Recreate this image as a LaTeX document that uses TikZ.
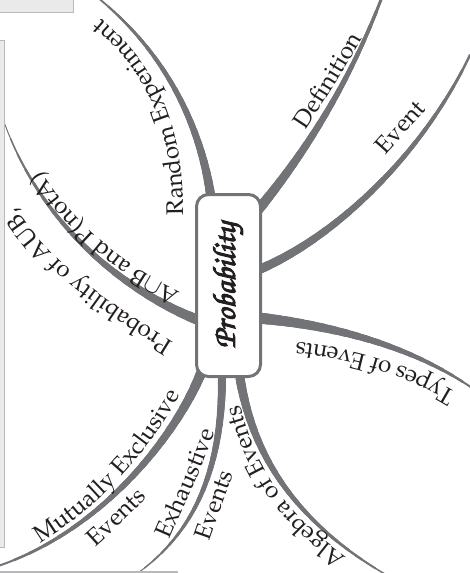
\documentclass[tikz,border=0pt]{standalone}
\usepackage[T1]{fontenc}
\renewcommand{\rmdefault}{ppl}
\usetikzlibrary{calc,decorations.text,backgrounds}
\definecolor{brgray}{RGB}{114,115,118}
\definecolor{ink}{RGB}{35,31,32}
\definecolor{framegray}{RGB}{185,185,188}
\definecolor{framefill}{RGB}{234,234,235}
\newcommand\lblfont{\fontsize{24}{26}\selectfont\color{ink}}
\newcommand\taperbranch[6]{%
  \foreach \k in {0,...,19}{%
    \pgfmathsetmacro\tb{1-\k/20}%
    \pgfmathsetmacro\wb{#6+(#5-#6)*\k/19}%
    \path ($(#1)!\tb!(#2)$) coordinate (qA)
          ($(#2)!\tb!(#3)$) coordinate (qB)
          ($(#3)!\tb!(#4)$) coordinate (qC);
    \path ($(qA)!\tb!(qB)$) coordinate (qD)
          ($(qB)!\tb!(qC)$) coordinate (qE);
    \path ($(qD)!\tb!(qE)$) coordinate (qF);
    \draw[brline, line width=\wb pt] (#1) .. controls (qA) and (qD) .. (qF);
  }%
}
\tikzset{
  brline/.style={draw=brgray, line cap=round},
  hub/.style={draw=brgray, line width=3pt, fill=white, rounded corners=12pt,
    minimum width=64pt, minimum height=182pt, inner sep=0pt},
  framebox/.style={fill=framefill, draw=framegray, line width=1pt},
}
\begin{document}
\begin{tikzpicture}[x=1pt,y=-1pt]
\useasboundingbox (0,0) rectangle (469,573);
% page frame fragments
\path[framebox] (-5,-5) rectangle (73.5,12.5);
\path[framebox] (-5,40) rectangle (4,547);
\draw[framegray, line width=2pt] (-2,571.5) -- (178,571.5);

% hub
\node[hub] (P) at (228.5,285.5) {\rotatebox{90}{\fontsize{32}{32}\fontfamily{pzc}\fontseries{m}\fontshape{it}\selectfont\color{ink}\special{pdf:literal direct 2 Tr 1 w}Probability\special{pdf:literal direct 0 Tr}}};

% branch coordinates
\coordinate (b1a) at ($(P.center)+(-17.5,-87.5)$);
\coordinate (b1b) at (203,140); \coordinate (b1c) at (175,60); \coordinate (b1d) at (97,-3);
\coordinate (b2a) at ($(P.center)+(29.5,-75.5)$);
\coordinate (b2b) at (295,165); \coordinate (b2c) at (345,95); \coordinate (b2d) at (382,-3);
\coordinate (b3a) at ($(P.center)+(29.5,-15.5)$);
\coordinate (b3b) at (330,240); \coordinate (b3c) at (420,160); \coordinate (b3d) at (470,55);
\coordinate (b4a) at ($(P.center)+(29.5,32.5)$);
\coordinate (b4b) at (330,325); \coordinate (b4c) at (410,345); \coordinate (b4d) at (472,388);
\coordinate (b5a) at ($(P.center)+(11.5,92.5)$);
\coordinate (b5b) at (252,450); \coordinate (b5c) at (290,520); \coordinate (b5d) at (390,577);
\coordinate (b6a) at ($(P.center)+(-6.5,92.5)$);
\coordinate (b6b) at (222,460); \coordinate (b6c) at (200,530); \coordinate (b6d) at (135,575);
\coordinate (b7a) at ($(P.center)+(-25.5,82.5)$);
\coordinate (b7b) at (180,430); \coordinate (b7c) at (105,530); \coordinate (b7d) at (-2,566);
\coordinate (b8a) at ($(P.center)+(-30.5,34.5)$);
\coordinate (b8b) at (135,295); \coordinate (b8c) at (45,235); \coordinate (b8d) at (4,122);

\begin{pgfonlayer}{background}
\taperbranch{b1a}{b1b}{b1c}{b1d}{9}{1.8}
\taperbranch{b2a}{b2b}{b2c}{b2d}{10}{3}
\taperbranch{b3a}{b3b}{b3c}{b3d}{9}{2.5}
\taperbranch{b4a}{b4b}{b4c}{b4d}{11}{2}
\taperbranch{b5a}{b5b}{b5c}{b5d}{9}{1.5}
\taperbranch{b6a}{b6b}{b6c}{b6d}{8}{1}
\taperbranch{b7a}{b7b}{b7c}{b7d}{10}{2}
\taperbranch{b8a}{b8b}{b8c}{b8d}{10}{1}
\end{pgfonlayer}

% labels along curves
\path[decorate, decoration={text along path, text={|\lblfont|Random Experiment}}]
  (183,215) .. controls (183,140) and (168,60) .. (70,-4);
\path[decorate, decoration={text along path, text={|\lblfont|Definition}}]
  (305,130) .. controls (325,100) and (345,68) .. (370,25);
\path[decorate, decoration={text along path, text={|\lblfont|Event}}]
  (385,155) .. controls (402,136) and (420,116) .. (442,92);
\path[decorate, decoration={text along path, text={|\lblfont|Types of Events}}]
  (456,393) .. controls (410,365) and (350,345) .. (270,340);
\path[decorate, decoration={text along path, text={|\lblfont|Algebra of Events}}]
  (346,557) .. controls (298,522) and (255,482) .. (236,388);
\path[decorate, decoration={text along path, text={|\lblfont|Exhaustive}}]
  (169,540) .. controls (185,502) and (205,465) .. (221,410);
\path[decorate, decoration={text along path, text={|\lblfont|Events}}]
  (209,541) .. controls (218,515) and (228,488) .. (242,448);
\path[decorate, decoration={text along path, text={|\lblfont|Mutually Exclusive}}]
  (40,543) .. controls (85,515) and (140,470) .. (185,385);
\path[decorate, decoration={text along path, text={|\lblfont|Events}}]
  (95,547) .. controls (115,529) and (135,510) .. (160,484);
\path[decorate, decoration={text along path, text={|\lblfont|A{$\cap$}B and P(notA)}}]
  (180,292) .. controls (118,262) and (55,212) .. (26,140);
\path[decorate, decoration={text along path, text={|\lblfont|Probability of AUB,}}]
  (173,342) .. controls (110,303) and (40,262) .. (0,180);
\end{tikzpicture}
\end{document}
